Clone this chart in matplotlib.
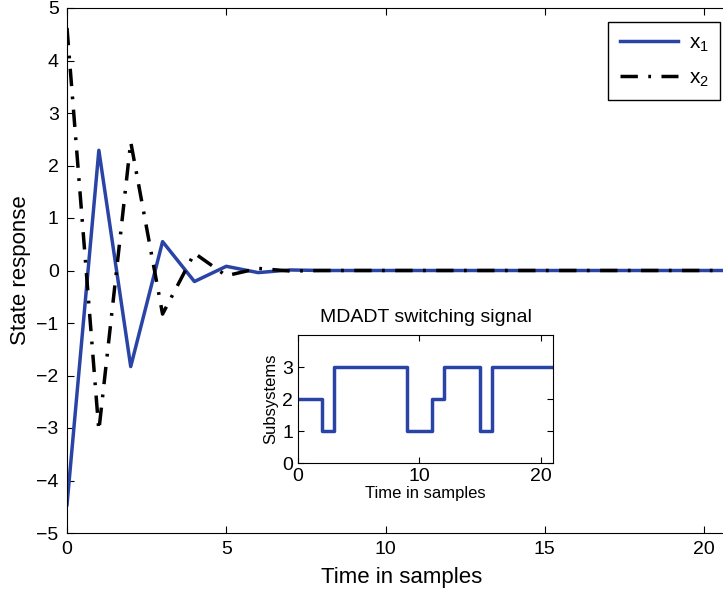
import numpy as np
import matplotlib.pyplot as plt

plt.rcParams['font.family'] = ['Liberation Sans', 'DejaVu Sans']
plt.rcParams['mathtext.fontset'] = 'custom'
plt.rcParams['mathtext.rm'] = 'Liberation Sans'

# state trajectories
t = np.arange(0, 22)
x1 = [-4.46, 2.29, -1.83, 0.55, -0.21, 0.08, -0.04, 0.01] + [0.0] * 14
x2 = [4.62, -3.05, 2.45, -0.83, 0.33, -0.10, 0.04, -0.01] + [0.0] * 14

# switching signal
sw_t = [0, 2, 3, 9, 11, 12, 15, 16, 21]
sw_mode = [2, 1, 3, 1, 2, 3, 1, 3, 3]

blue = '#2a44a6'

fig = plt.figure(figsize=(7.23, 5.99), dpi=100)
W, H = 723, 599
# main axes: x=0 at px 67, x=21 at px ~736 (cropped at the right)
ax = fig.add_axes([67 / W, 1 - 533 / H, (736 - 67) / W, (533 - 8) / H])
ax.plot(t, x1, color=blue, lw=2.5, label=r'$\mathregular{x_1}$')
ax.plot(t, x2, color='black', lw=2.5, ls=(0, (5, 3, 0.8, 3)), label=r'$\mathregular{x_2}$')
ax.set_xlim(0, 21)
ax.set_ylim(-5, 5)
ax.set_xticks([0, 5, 10, 15, 20])
ax.set_yticks(range(-5, 6))
ax.set_yticklabels([str(v).replace('-', '\u2212') for v in range(-5, 6)])
ax.tick_params(direction='in', labelsize=14, length=5, top=True, right=True, pad=6)
ax.set_xlabel('Time in samples', fontsize=16, labelpad=6)
ax.set_ylabel('State response', fontsize=16, labelpad=4)
leg = ax.legend(loc='upper right', bbox_to_anchor=((720 - 67) / (736 - 67), 1 - 14 / 525),
                borderaxespad=0, fontsize=15, fancybox=False, edgecolor='black',
                framealpha=1, handlelength=2.8, borderpad=0.55, labelspacing=0.7,
                handletextpad=0.5)
leg.get_frame().set_linewidth(1.0)

# inset
ins = fig.add_axes([298 / W, 1 - 463 / H, (553 - 298) / W, (463 - 335) / H])
ins.plot(sw_t, sw_mode, color=blue, lw=2.5, drawstyle='steps-post')
ins.set_xlim(0, 21)
ins.set_ylim(0, 4)
ins.set_xticks([0, 10, 20])
ins.set_yticks([0, 1, 2, 3])
ins.tick_params(direction='in', labelsize=14, length=4, top=True, right=True)
ins.set_title('MDADT switching signal', fontsize=14, pad=9)
ins.set_xlabel('Time in samples', fontsize=12, labelpad=1)
ins.set_ylabel('Subsystems', fontsize=12, labelpad=3)

fig.savefig('out.png', dpi=100)
